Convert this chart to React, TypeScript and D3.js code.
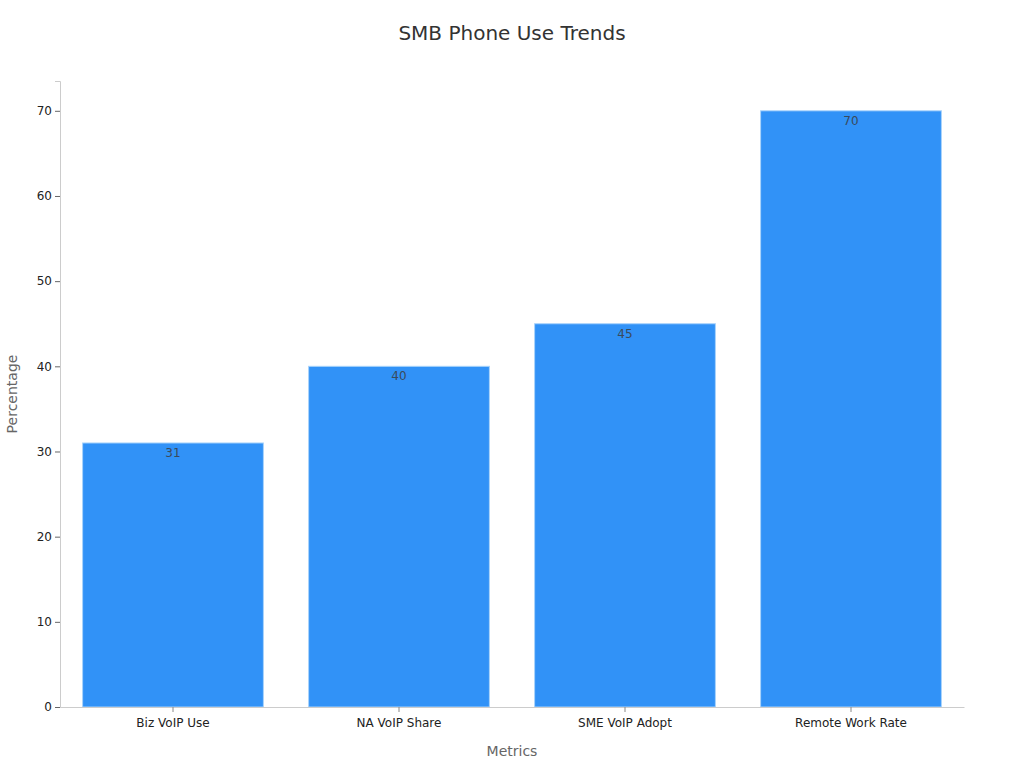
import { useEffect, useRef } from "react";
import * as d3 from "d3";

const CATEGORIES: string[] = ["Biz VoIP Use", "NA VoIP Share", "SME VoIP Adopt", "Remote Work Rate"];
const VALUES: number[] = [31, 40, 45, 70];
const Y_TICKS: number[] = [0, 10, 20, 30, 40, 50, 60, 70];

const W = 1024;
const H = 768;
const margin = { top: 81, right: 60, bottom: 61, left: 60 };
const FONT = "DejaVu Sans, sans-serif";

const App = () => {
  const svgRef = useRef<SVGSVGElement | null>(null);

  useEffect(() => {
    if (!svgRef.current) return;
    const svg = d3.select(svgRef.current);
    svg.selectAll("*").remove();

    const innerW = W - margin.left - margin.right;
    const innerH = H - margin.top - margin.bottom;

    const x = d3
      .scaleBand<string>()
      .domain(CATEGORIES)
      .range([0, innerW])
      .paddingInner(0.2)
      .paddingOuter(0.1);

    const y = d3.scaleLinear().domain([0, 73.5]).range([innerH, 0]);

    svg
      .append("text")
      .attr("x", W / 2)
      .attr("y", 40)
      .attr("text-anchor", "middle")
      .attr("font-family", FONT)
      .attr("font-size", 20)
      .attr("fill", "#333")
      .text("SMB Phone Use Trends");

    const g = svg
      .append("g")
      .attr("transform", `translate(${margin.left}, ${margin.top})`);

    // bars
    g.selectAll("rect.bar")
      .data(VALUES)
      .join("rect")
      .attr("class", "bar")
      .attr("x", (_, i) => x(CATEGORIES[i])!)
      .attr("y", (d) => y(d))
      .attr("width", x.bandwidth())
      .attr("height", (d) => innerH - y(d))
      .attr("fill", "#3192f7")
      .attr("stroke", "#a9d3fb")
      .attr("stroke-width", 1);

    g.selectAll("text.val")
      .data(VALUES)
      .join("text")
      .attr("class", "val")
      .attr("x", (_, i) => x(CATEGORIES[i])! + x.bandwidth() / 2)
      .attr("y", (d) => y(d) + 14)
      .attr("text-anchor", "middle")
      .attr("font-family", FONT)
      .attr("font-size", 12)
      .attr("fill", "#3a4a5c")
      .text((d) => String(d));

    // y axis
    const yAxis = g
      .append("g")
      .call(d3.axisLeft(y).tickValues(Y_TICKS).tickSize(5).tickPadding(3));
    yAxis.select(".domain").attr("stroke", "#ccc");
    yAxis.selectAll(".tick line").attr("stroke", "#666");
    yAxis
      .selectAll(".tick text")
      .attr("font-family", FONT)
      .attr("font-size", 12)
      .attr("fill", "#222");

    // x axis
    const xAxis = g
      .append("g")
      .attr("transform", `translate(0, ${innerH})`)
      .call(d3.axisBottom(x).tickSize(5).tickSizeOuter(0).tickPadding(6));
    xAxis.select(".domain").attr("stroke", "#ccc");
    xAxis.selectAll(".tick line").attr("stroke", "#888");
    xAxis
      .selectAll(".tick text")
      .attr("font-family", FONT)
      .attr("font-size", 12)
      .attr("fill", "#222");

    svg
      .append("text")
      .attr("x", margin.left + innerW / 2)
      .attr("y", 756)
      .attr("text-anchor", "middle")
      .attr("font-family", FONT)
      .attr("font-size", 14)
      .attr("fill", "#666")
      .text("Metrics");

    svg
      .append("text")
      .attr("transform", `translate(17, ${margin.top + innerH / 2}) rotate(-90)`)
      .attr("text-anchor", "middle")
      .attr("font-family", FONT)
      .attr("font-size", 14)
      .attr("fill", "#666")
      .text("Percentage");
  }, []);

  return (
    <svg
      ref={svgRef}
      width={W}
      height={H}
      style={{ position: "absolute", left: 0, top: 0, background: "#fff" }}
    />
  );
};

export default App;
